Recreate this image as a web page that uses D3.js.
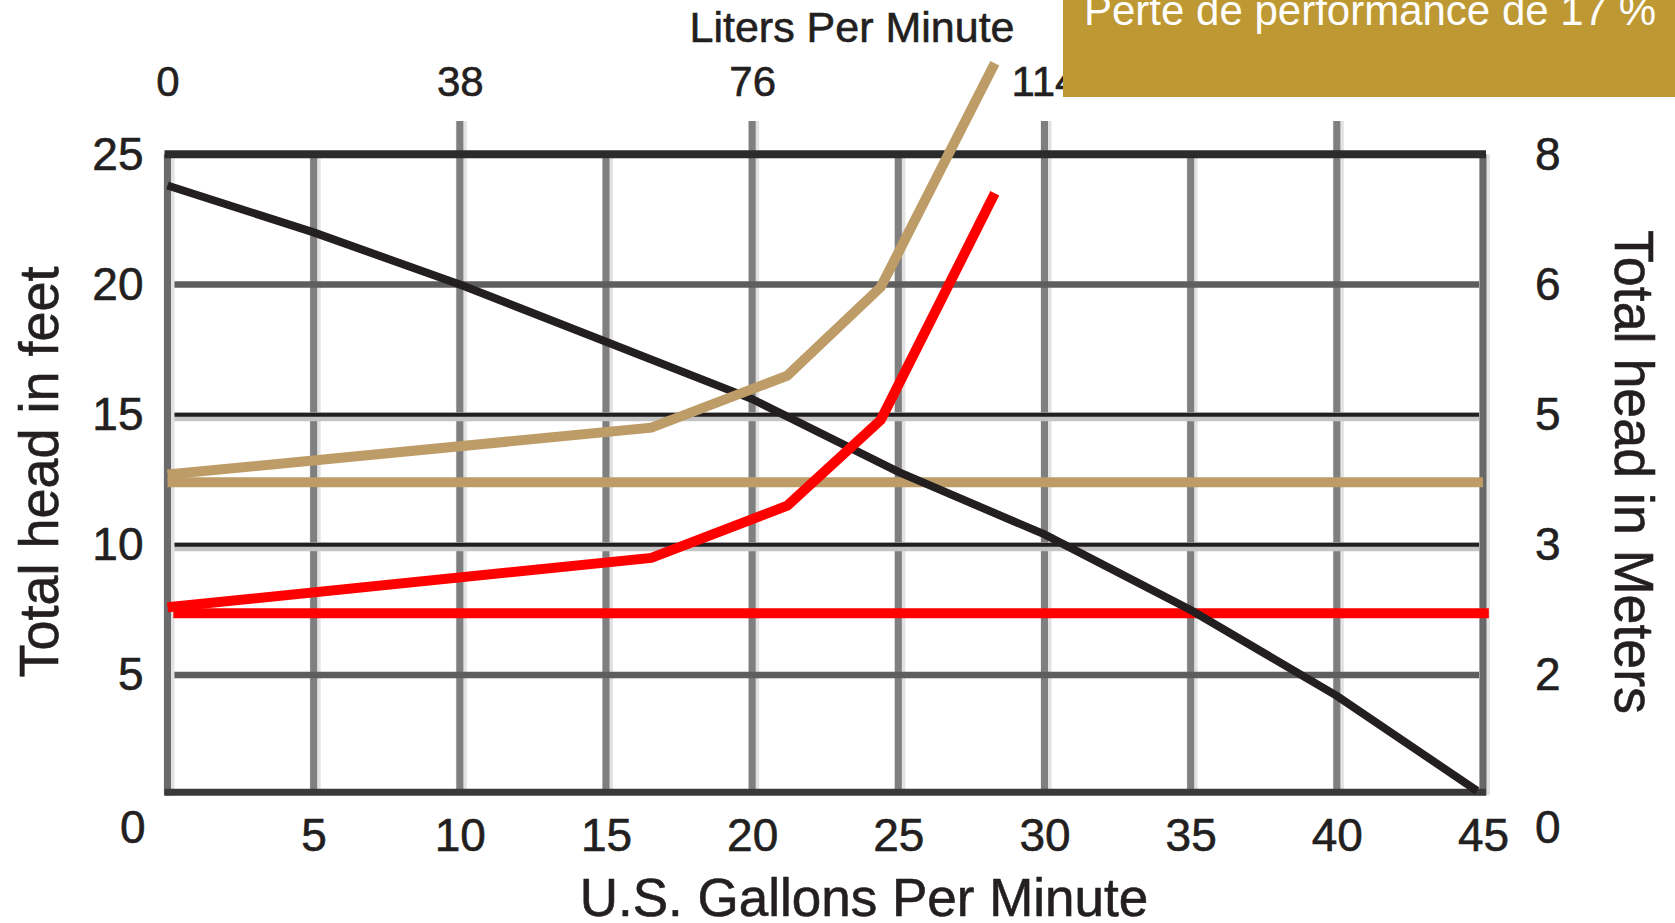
<!DOCTYPE html>
<meta charset="utf-8">
<head>
  <title>Pump performance curve</title>
  <style>
    body { margin: 0; background: #fff; }
    text { font-family: "Liberation Sans", Arial, sans-serif; fill: #231f20; }
  </style>
</head>
<body>
<script src="https://cdn.jsdelivr.net/npm/d3@7/dist/d3.min.js"></script>
<div id="chart"></div>
<script>

  // gridlines / ticks (U.S. gallons per minute)
  var gpmGrid = [5, 10, 15, 20, 25, 30, 35, 40];
  var gpmTicks = [5, 10, 15, 20, 25, 30, 35, 40, 45];
  // feet on the left, meters labelled on the same rules on the right
  var feetTicks = [5, 10, 15, 20, 25];
  var meterLabels = ['2', '3', '5', '6', '8'];
  // liters per minute, top axis (placed at the gpm values)
  var literTicks = [0, 10, 20, 30, 40];
  var literLabels = ['0', '38', '76', '114', '151'];

  // pump curve
  var pumpGpm = [0, 5, 10, 15, 20, 25, 30, 35, 40, 44.8];
  var pumpHead = [23.8, 22.0, 20.0, 17.8, 15.6, 12.8, 10.4, 7.5, 4.2, 0.55];

  // system curves
  var systemGpm = [0, 16.55, 21.2, 24.4, 28.3];
  var tanHead = [12.7, 14.5, 16.5, 19.9, 28.5];
  var redHead = [7.6, 9.5, 11.5, 14.8, 23.5];

  // static levels
  var tanLevelGpm = [0, 45];
  var tanLevel = [12.4, 12.4];
  var redLevelGpm = [0.2, 45.2];
  var redLevel = [7.37, 7.37];

  var width = 1675;
  var height = 923;
  var bottomFeet = 0.5;

  var x = d3.scaleLinear().domain([0, 45]).range([167.5, 1483]);
  var y = d3.scaleLinear().domain([0, 25]).range([805.2, 154.3]);

  var svg = d3.select('#chart')
    .append('svg')
    .attr('width', width)
    .attr('height', height);

  svg.append('rect').attr('width', width).attr('height', height).attr('fill', '#fff');

  var grid = svg.append('g');

  // vertical rules (with the soft grey edge of the scan)
  function vRule(xv, y0, y1, color) {
    grid.append('line')
      .attr('x1', x(xv) + 1.5).attr('x2', x(xv) + 1.5)
      .attr('y1', y0).attr('y2', y1)
      .attr('stroke', '#e2e2e2').attr('stroke-width', 11);
    grid.append('line')
      .attr('x1', x(xv)).attr('x2', x(xv))
      .attr('y1', y0).attr('y2', y1)
      .attr('stroke', color).attr('stroke-width', 7);
  }

  gpmGrid.forEach(function(d) {
    var top = literTicks.indexOf(d) >= 0 ? 121 : y(25);
    vRule(d, top, y(bottomFeet), '#7f7f7f');
  });

  // horizontal rules
  feetTicks.filter(function(d) { return d < 25; }).forEach(function(d) {
    var dark = (d === 10 || d === 15);
    if (dark) {
      grid.append('line')
        .attr('x1', x(0)).attr('x2', x(45))
        .attr('y1', y(d) + 2).attr('y2', y(d) + 2)
        .attr('stroke', '#c4c4c4').attr('stroke-width', 9);
      grid.append('line')
        .attr('x1', x(0)).attr('x2', x(45))
        .attr('y1', y(d)).attr('y2', y(d))
        .attr('stroke', '#231f20').attr('stroke-width', 4);
    } else {
      grid.append('line')
        .attr('x1', x(0)).attr('x2', x(45))
        .attr('y1', y(d)).attr('y2', y(d))
        .attr('stroke', '#5e5e5e').attr('stroke-width', 6.5);
    }
  });

  // frame
  vRule(0, y(25), y(bottomFeet) + 3, '#6b6b6b');
  vRule(45, y(25), y(bottomFeet) + 3, '#686868');
  grid.append('line')
    .attr('x1', x(0) - 3).attr('x2', x(45) + 3)
    .attr('y1', y(25)).attr('y2', y(25))
    .attr('stroke', '#2b2b2b').attr('stroke-width', 8);
  grid.append('line')
    .attr('x1', x(0) - 3).attr('x2', x(45) + 3)
    .attr('y1', y(bottomFeet)).attr('y2', y(bottomFeet))
    .attr('stroke', '#3b3839').attr('stroke-width', 7);

  // curves
  var line = d3.line()
    .x(function(d) { return x(d[0]); })
    .y(function(d) { return y(d[1]); });

  function drawLine(xs, ys, color, w) {
    svg.append('path')
      .datum(d3.zip(xs, ys))
      .attr('d', line)
      .attr('fill', 'none')
      .attr('stroke', color)
      .attr('stroke-width', w)
      .attr('stroke-linejoin', 'miter')
      .attr('stroke-linecap', 'butt');
  }

  drawLine(tanLevelGpm, tanLevel, '#bd9c68', 10);
  drawLine(redLevelGpm, redLevel, '#ff0000', 10);
  drawLine(pumpGpm, pumpHead, '#231f20', 8);
  drawLine(systemGpm, tanHead, '#bd9c68', 10);
  drawLine(systemGpm, redHead, '#ff0000', 10);

  // axes
  function styleAxis(g, size) {
    g.select('.domain').remove();
    g.selectAll('line').remove();
    g.selectAll('text')
      .attr('font-size', size)
      .attr('fill', '#231f20')
      .attr('stroke', '#231f20')
      .attr('stroke-width', 0.6)
      .style('font-family', '"Liberation Sans", Arial, sans-serif');
  }

  svg.append('g')
    .attr('transform', 'translate(0,' + y(bottomFeet) + ')')
    .call(d3.axisBottom(x).tickValues(gpmTicks).tickSize(0).tickPadding(26))
    .call(styleAxis, 46);

  svg.append('g')
    .attr('transform', 'translate(' + x(0) + ',0)')
    .call(d3.axisLeft(y).tickValues(feetTicks).tickSize(0).tickPadding(24))
    .call(styleAxis, 46);

  svg.append('g')
    .attr('transform', 'translate(' + x(45) + ',0)')
    .call(d3.axisRight(y).tickValues(feetTicks).tickSize(0).tickPadding(52)
      .tickFormat(function(d, i) { return meterLabels[i]; }))
    .call(styleAxis, 46);

  svg.append('g')
    .attr('transform', 'translate(0,' + y(25) + ')')
    .call(d3.axisTop(x).tickValues(literTicks).tickSize(0).tickPadding(58)
      .tickFormat(function(d, i) { return literLabels[i]; }))
    .call(styleAxis, 42);

  // zero labels at the lower corners
  svg.append('text').attr('x', x(0) - 22).attr('y', 843)
    .attr('text-anchor', 'end').attr('font-size', 46)
    .attr('stroke', '#231f20').attr('stroke-width', 0.6).text('0');
  svg.append('text').attr('x', x(45) + 52).attr('y', 843)
    .attr('text-anchor', 'start').attr('font-size', 46)
    .attr('stroke', '#231f20').attr('stroke-width', 0.6).text('0');

  // titles
  svg.append('text')
    .attr('x', 852).attr('y', 42)
    .attr('text-anchor', 'middle')
    .attr('font-size', 43)
    .attr('stroke', '#231f20').attr('stroke-width', 0.6)
    .text('Liters Per Minute');

  svg.append('text')
    .attr('x', 864).attr('y', 916)
    .attr('text-anchor', 'middle')
    .attr('font-size', 53)
    .attr('stroke', '#231f20').attr('stroke-width', 0.6)
    .text('U.S. Gallons Per Minute');

  svg.append('text')
    .attr('transform', 'translate(58,472) rotate(-90)')
    .attr('text-anchor', 'middle')
    .attr('font-size', 56)
    .attr('textLength', 411)
    .attr('lengthAdjust', 'spacingAndGlyphs')
    .attr('stroke', '#231f20').attr('stroke-width', 0.6)
    .text('Total head in feet');

  svg.append('text')
    .attr('transform', 'translate(1615,472) rotate(90)')
    .attr('text-anchor', 'middle')
    .attr('font-size', 56)
    .attr('textLength', 484)
    .attr('lengthAdjust', 'spacingAndGlyphs')
    .attr('stroke', '#231f20').attr('stroke-width', 0.6)
    .text('Total head in Meters');

  // banner
  svg.append('rect')
    .attr('x', 1063).attr('y', 0)
    .attr('width', width - 1063).attr('height', 97)
    .attr('fill', '#be9833');
  svg.append('text')
    .attr('x', 1084).attr('y', 25)
    .attr('font-size', 42)
    .style('fill', '#fff')
    .text('Perte de performance de 17 %');

</script>
</body>
